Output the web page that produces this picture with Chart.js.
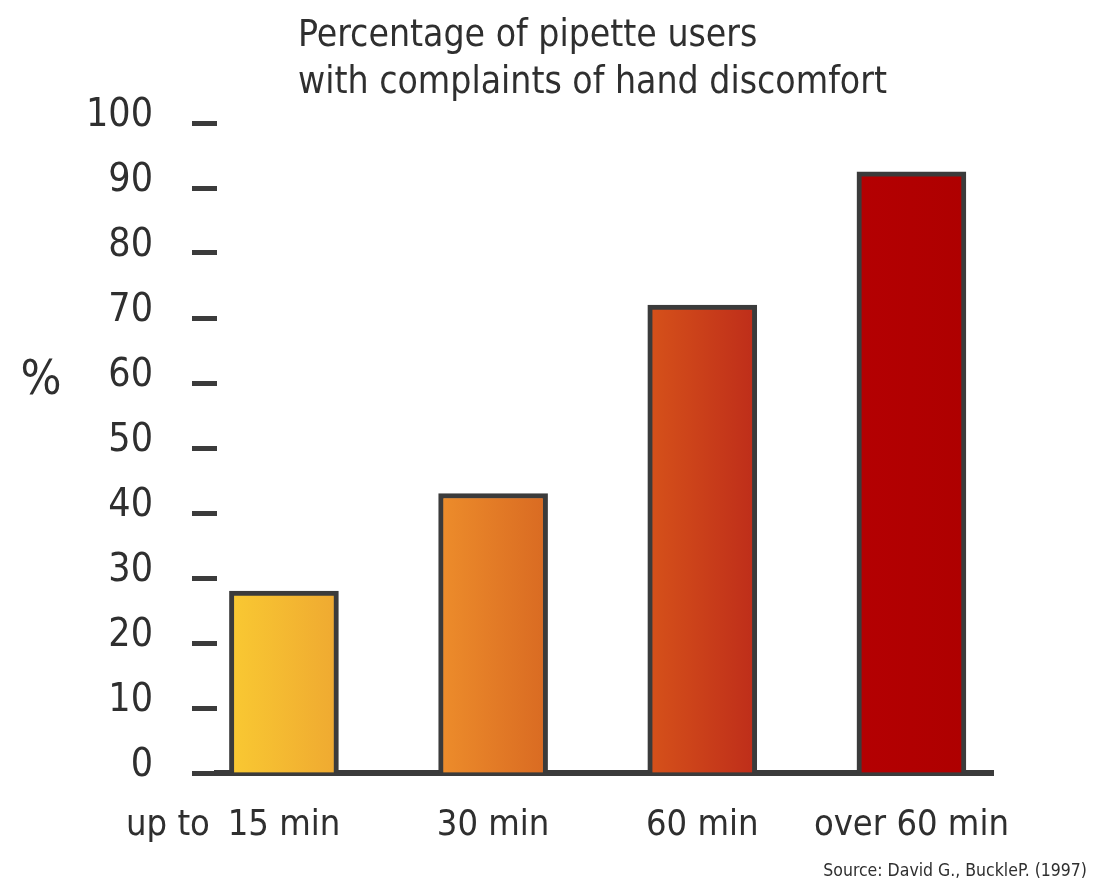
<!DOCTYPE html>
<html>
<head>
<meta charset="utf-8">
<script src="https://cdn.jsdelivr.net/npm/chart.js@4/dist/chart.umd.min.js"></script>
<style>
  html, body { margin: 0; padding: 0; background: #fff; }
  #wrap { width: 1103px; height: 884px; }
</style>
</head>
<body>
<div id="wrap"><canvas id="c" width="1103" height="884"></canvas></div>
<script>
// Session length categories and share of users reporting hand discomfort (%)
const categories = ['15 min', '30 min', '60 min', 'over 60 min'];
const discomfort = [28, 43, 72, 92.5];
const yTicks = [0, 10, 20, 30, 40, 50, 60, 70, 80, 90, 100];
const titleLines = ['Percentage of pipette users', 'with complaints of hand discomfort'];
const sourceNote = 'Source: David G., BuckleP. (1997)';

// Horizontal gradient per bar: left colour, right colour
const fillLeft = ['#f9c932', '#ed8d2b', '#d6521a', '#b40002'];
const fillRight = ['#efa931', '#d96a22', '#be2d1a', '#ae0000'];

const FONT = '"DejaVu Sans Condensed", "DejaVu Sans", sans-serif';
const INK = '#2f2f2f';
const BAR_W = 109;

const annotations = {
  id: 'annotations',
  afterDraw(chart) {
    const c = chart.ctx;
    const xs = chart.scales.x;
    c.save();
    c.fillStyle = INK;
    c.textBaseline = 'alphabetic';
    // heading
    c.font = '37px ' + FONT;
    c.textAlign = 'left';
    c.fillText(titleLines[0], 298, 46);
    c.fillText(titleLines[1], 298, 93);
    // unit label
    c.font = '48px ' + FONT;
    c.textAlign = 'center';
    c.fillText('%', 41, 394);
    // prefix in front of the first category
    c.font = '36px ' + FONT;
    c.textAlign = 'right';
    c.fillText('up to', xs.getPixelForValue(0) - 74, 835);
    // source
    c.font = '17.5px ' + FONT;
    c.textAlign = 'right';
    c.fillText(sourceNote, 1087, 876);
    c.restore();
  }
};

new Chart(document.getElementById('c'), {
  type: 'bar',
  data: {
    datasets: [{
      data: discomfort.map((v, i) => ({ x: i, y: v })),
      barThickness: BAR_W,
      borderColor: '#3b3b3b',
      borderWidth: 5,
      borderSkipped: 'start',
      backgroundColor(ctx) {
        const i = ctx.dataIndex;
        const { chartArea, scales } = ctx.chart;
        if (!chartArea || i === undefined) return fillLeft[0];
        const cx = scales.x.getPixelForValue(i);
        const g = ctx.chart.ctx.createLinearGradient(cx - BAR_W / 2, 0, cx + BAR_W / 2, 0);
        g.addColorStop(0, fillLeft[i]);
        g.addColorStop(1, fillRight[i]);
        return g;
      }
    }]
  },
  options: {
    responsive: false,
    devicePixelRatio: 1,
    animation: false,
    layout: { padding: { top: 123, right: 110, bottom: 0, left: 0 } },
    plugins: { legend: { display: false }, tooltip: { enabled: false }, title: { display: false } },
    scales: {
      x: {
        type: 'linear',
        min: -0.32,
        max: 3.39,
        offset: false,
        z: 1,
        afterFit(s) { s.height = 111; },
        afterBuildTicks(s) { s.ticks = categories.map((_, i) => ({ value: i })); },
        grid: { display: false, offset: false },
        border: { display: true, color: '#3b3b3b', width: 6 },
        ticks: {
          padding: 23,
          color: INK,
          autoSkip: false,
          maxRotation: 0,
          minRotation: 0,
          font: { family: FONT, size: 36 },
          callback: (v) => categories[v] ?? ''
        }
      },
      y: {
        min: 0,
        max: 100,
        afterFit(s) { s.width = 217; },
        afterBuildTicks(s) { s.ticks = yTicks.map(v => ({ value: v })); },
        grid: {
          display: true,
          drawOnChartArea: false,
          drawTicks: true,
          tickLength: 25,
          tickWidth: 5,
          tickColor: '#3b3b3b'
        },
        border: { display: false },
        ticks: {
          padding: 39,
          labelOffset: -7,
          color: INK,
          font: { family: FONT, size: 39 }
        }
      }
    }
  },
  plugins: [annotations]
});
</script>
</body>
</html>
